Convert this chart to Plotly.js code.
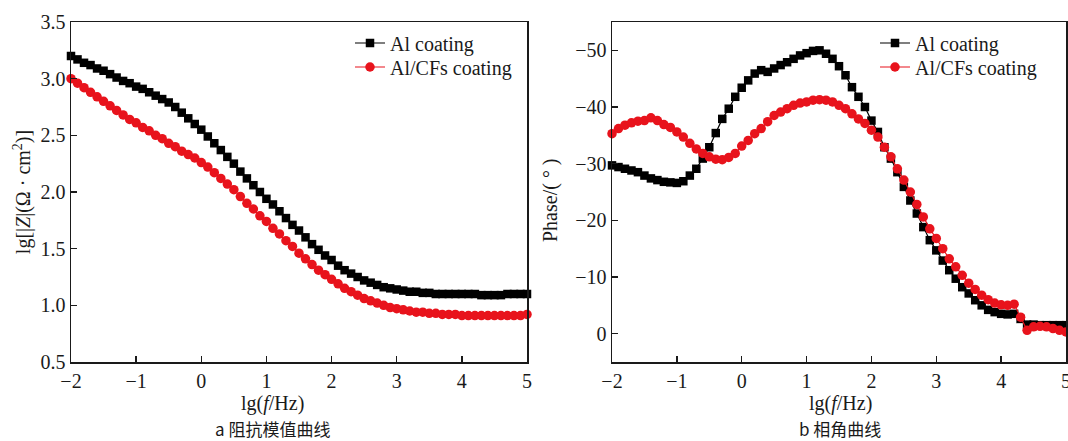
<!DOCTYPE html>
<html>
<head>
<meta charset="utf-8">
<script src="https://cdn.plot.ly/plotly-3.0.1.min.js"></script>
<style>html,body{margin:0;padding:0;background:#fff;}#chart{width:1068px;height:441px;}</style>
</head>
<body>
<div id="chart"></div>
<script>
// lg(f/Hz) from -2 to 5, 10 points per decade
const lgF = [-2.0,-1.9,-1.8,-1.7,-1.6,-1.5,-1.4,-1.3,-1.2,-1.1,-1.0,-0.9,-0.8,-0.7,-0.6,-0.5,-0.4,-0.3,-0.2,-0.1,
  0.0,0.1,0.2,0.3,0.4,0.5,0.6,0.7,0.8,0.9,1.0,1.1,1.2,1.3,1.4,1.5,1.6,1.7,1.8,1.9,
  2.0,2.1,2.2,2.3,2.4,2.5,2.6,2.7,2.8,2.9,3.0,3.1,3.2,3.3,3.4,3.5,3.6,3.7,3.8,3.9,
  4.0,4.1,4.2,4.3,4.4,4.5,4.6,4.7,4.8,4.9,5.0];

// lg|Z| values
const zAl = [3.20,3.17,3.14,3.12,3.09,3.07,3.04,3.01,2.98,2.96,2.93,2.91,2.88,2.85,2.82,2.79,2.75,2.70,2.65,2.60,
  2.55,2.49,2.43,2.37,2.31,2.25,2.18,2.12,2.06,2.00,1.94,1.89,1.83,1.77,1.71,1.66,1.60,1.54,1.49,1.44,
  1.40,1.35,1.31,1.28,1.25,1.22,1.20,1.18,1.16,1.15,1.14,1.13,1.12,1.12,1.11,1.11,1.10,1.10,1.10,1.10,
  1.10,1.10,1.10,1.09,1.09,1.09,1.09,1.10,1.10,1.10,1.10];
const zAlCF = [3.00,2.96,2.92,2.88,2.84,2.80,2.76,2.72,2.68,2.64,2.61,2.57,2.54,2.50,2.47,2.43,2.40,2.36,2.33,2.30,
  2.26,2.22,2.17,2.12,2.07,2.02,1.96,1.90,1.85,1.79,1.74,1.68,1.63,1.57,1.52,1.46,1.41,1.36,1.31,1.27,
  1.23,1.19,1.15,1.12,1.09,1.06,1.04,1.02,1.00,0.98,0.97,0.96,0.95,0.94,0.94,0.93,0.93,0.92,0.92,0.92,
  0.91,0.91,0.91,0.91,0.91,0.91,0.91,0.91,0.91,0.91,0.92];

// phase values (degrees)
const phAl = [-29.7,-29.4,-29.1,-28.8,-28.5,-27.9,-27.4,-27.1,-26.8,-26.7,-26.6,-26.9,-27.9,-29.1,-30.9,-32.9,-35.4,-37.9,-39.7,-41.8,
  -43.4,-44.7,-45.9,-46.5,-46.2,-46.8,-47.4,-47.9,-48.5,-49.1,-49.5,-49.9,-50.0,-49.4,-48.5,-47.2,-45.6,-43.5,-41.8,-40.0,
  -37.6,-35.6,-32.9,-30.9,-28.5,-25.9,-23.5,-21.2,-18.8,-16.5,-14.7,-12.9,-11.2,-9.7,-8.2,-7.1,-5.9,-5.0,-4.2,-3.8,
  -3.5,-3.4,-3.5,-2.6,-1.6,-1.6,-1.5,-1.5,-1.5,-1.5,-1.5];
const phAlCF = [-35.3,-36.2,-36.8,-37.2,-37.5,-37.6,-38.1,-37.6,-36.9,-36.4,-35.6,-34.7,-33.6,-32.6,-31.8,-31.2,-30.8,-30.7,-31.1,-31.8,
  -33.1,-34.1,-35.3,-36.2,-37.4,-38.5,-39.1,-39.7,-40.3,-40.7,-40.9,-41.2,-41.3,-41.2,-40.9,-40.3,-39.7,-38.8,-37.9,-37.1,
  -35.9,-34.7,-32.9,-31.2,-29.1,-27.1,-25.0,-22.8,-20.6,-18.5,-16.8,-15.0,-13.2,-11.8,-10.3,-8.9,-7.8,-6.8,-6.0,-5.4,
  -5.1,-5.0,-5.2,-2.9,-0.6,-1.2,-1.3,-1.2,-0.9,-0.6,-0.3];

const names = ['Al coating', 'Al/CFs coating'];
const xTitle = 'lg(<i>f</i>/Hz)';
const yTitles = ['lg[|<i>Z</i>|(Ω · cm<sup>2</sup>)]', 'Phase/( ° )'];
const captions = ['a 阻抗模值曲线', 'b 相角曲线'];
const serif = 'Liberation Serif, Times New Roman, serif';
const tickFont = {family: serif, size: 20, color: '#1a1a1a'};

const blackStyle = {mode: 'lines+markers', line: {color: '#000', width: 1.2},
  marker: {symbol: 'square', size: 8.5, color: '#000'}, cliponaxis: false};
const redStyle = {mode: 'lines+markers', line: {color: '#e8131c', width: 1.2},
  marker: {symbol: 'circle', size: 9.5, color: '#e8131c'}, cliponaxis: false};

const traces = [
  Object.assign({x: lgF, y: zAl, name: names[0], xaxis: 'x', yaxis: 'y', legend: 'legend'}, blackStyle),
  Object.assign({x: lgF, y: zAlCF, name: names[1], xaxis: 'x', yaxis: 'y', legend: 'legend2'}, redStyle),
  Object.assign({x: lgF, y: phAl, name: names[0], xaxis: 'x2', yaxis: 'y2', legend: 'legend3'}, blackStyle),
  Object.assign({x: lgF, y: phAlCF, name: names[1], xaxis: 'x2', yaxis: 'y2', legend: 'legend4'}, redStyle)
];

const axisCommon = {showline: true, mirror: true, linecolor: '#1a1a1a', linewidth: 1.5,
  ticks: 'inside', ticklen: 6, tickwidth: 1.3, tickcolor: '#1a1a1a', showgrid: false, zeroline: false,
  tickfont: tickFont, ticklabeloverflow: 'allow'};
const titleFont = {family: serif, size: 20, color: '#1a1a1a'};
const legendFont = {family: serif, size: 20, color: '#1a1a1a'};
const capFont = {family: 'Noto Sans CJK SC, Liberation Serif, serif', size: 17, color: '#1a1a1a'};

const yPaper = function (px) { return (362 - px) / 340; };
const legendAt = function (xpx, ypx) {
  return {x: xpx/1068, y: yPaper(ypx), xanchor: 'left', yanchor: 'middle', bgcolor: 'rgba(0,0,0,0)',
    font: legendFont, itemwidth: 30, borderwidth: 0};
};

const layout = {
  width: 1068, height: 441,
  margin: {l: 0, r: 0, t: 22, b: 79},
  paper_bgcolor: '#fff', plot_bgcolor: '#fff',
  font: tickFont,
  xaxis: Object.assign({}, axisCommon, {domain: [71/1068, 527/1068], range: [-2, 5], dtick: 1, tick0: 0, anchor: 'y'}),
  yaxis: Object.assign({}, axisCommon, {range: [0.5, 3.5], dtick: 0.5, tick0: 0.5, tickformat: '.1f', anchor: 'x',
    title: {text: yTitles[0], font: titleFont, standoff: 4}}),
  xaxis2: Object.assign({}, axisCommon, {domain: [612/1068, 1066/1068], range: [-2, 5], dtick: 1, tick0: 0, anchor: 'y2'}),
  yaxis2: Object.assign({}, axisCommon, {range: [5, -55], dtick: 10, tick0: 0, anchor: 'x2'}),
  legend: legendAt(350, 43),
  legend2: legendAt(350, 67),
  legend3: legendAt(875, 43),
  legend4: legendAt(875, 67),
  showlegend: true,
  annotations: [
    {text: yTitles[1], xref: 'paper', yref: 'paper', x: 550/1068, y: yPaper(200), xanchor: 'center', yanchor: 'middle',
      textangle: -90, showarrow: false, font: titleFont},
    {text: xTitle, xref: 'paper', yref: 'paper', x: 272/1068, y: yPaper(403), xanchor: 'center', yanchor: 'middle',
      showarrow: false, font: titleFont},
    {text: xTitle, xref: 'paper', yref: 'paper', x: 840/1068, y: yPaper(403), xanchor: 'center', yanchor: 'middle',
      showarrow: false, font: titleFont},
    {text: captions[0], xref: 'paper', yref: 'paper', x: 272/1068, y: yPaper(428.5), xanchor: 'center', yanchor: 'middle',
      showarrow: false, font: capFont},
    {text: captions[1], xref: 'paper', yref: 'paper', x: 840/1068, y: yPaper(428.5), xanchor: 'center', yanchor: 'middle',
      showarrow: false, font: capFont}
  ]
};

Plotly.newPlot('chart', traces, layout, {displayModeBar: false, staticPlot: true});
</script>
</body>
</html>
